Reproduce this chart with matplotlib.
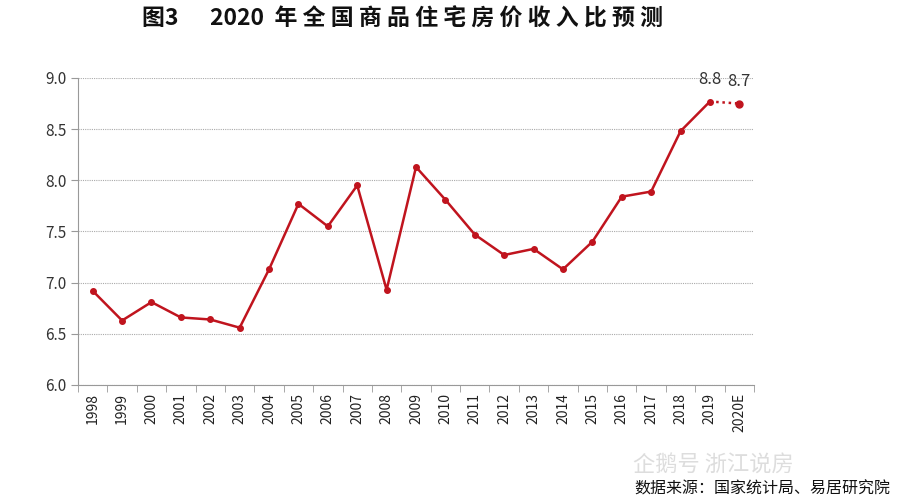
import numpy as np
import matplotlib.pyplot as plt

plt.rcParams['font.family'] = ['Noto Sans CJK SC', 'DejaVu Sans']

years = ['1998', '1999', '2000', '2001', '2002', '2003', '2004', '2005', '2006',
         '2007', '2008', '2009', '2010', '2011', '2012', '2013', '2014', '2015',
         '2016', '2017', '2018', '2019', '2020E']
ratio = [6.92, 6.63, 6.81, 6.66, 6.64, 6.56, 7.13, 7.77, 7.55, 7.95, 6.93, 8.13,
         7.81, 7.47, 7.27, 7.33, 7.13, 7.40, 7.84, 7.89, 8.48, 8.77, 8.75]
labels = {'2019': '8.8', '2020E': '8.7'}

red = '#c0141e'
x = np.arange(len(years))

fig = plt.figure(figsize=(9.09, 5.03), dpi=100)
ax = fig.add_axes([0.0858, 0.2346, 0.7437, 0.6104])

# actual values solid, forecast dotted
ax.plot(x[:-1], ratio[:-1], color=red, lw=1.8, marker='o', ms=4, zorder=3)
ax.plot(x[-2:], ratio[-2:], color=red, lw=1.8, ls=(0, (1, 1.5)), zorder=3)
ax.plot(x[-1], ratio[-1], color=red, marker='o', ms=5, zorder=3)

for i, y in enumerate(years):
    if y in labels:
        ax.text(x[i], ratio[i] + 0.13, labels[y], ha='center', va='bottom',
                fontsize=12, color='#333333')

ax.set_xlim(-0.5, len(years) - 0.5)
ax.set_ylim(6.0, 9.0)
ax.set_yticks(np.arange(6.0, 9.01, 0.5))
ax.set_yticklabels([f'{v:.1f}' for v in np.arange(6.0, 9.01, 0.5)])
ax.set_xticks(x)
ax.set_xticklabels(years, rotation=90)
ax.set_xticks(np.arange(-0.5, len(years)), minor=True)
ax.tick_params(axis='x', which='major', length=0, labelsize=10, pad=6, colors='#222222')
ax.tick_params(axis='x', which='minor', length=5, color='#999999')
ax.tick_params(axis='y', length=5, color='#999999', labelsize=11, labelcolor='#333333')

ax.grid(axis='y', ls=(0, (1, 1)), color='#aaaaaa', lw=0.8)
for s in ['top', 'right']:
    ax.spines[s].set_visible(False)
for s in ['left', 'bottom']:
    ax.spines[s].set_color('#999999')

title = '图3      2020  ' + ' '.join('年全国商品住宅房价收入比预测')
fig.text(0.443, 0.962, title, ha='center', va='center',
         fontsize=16.5, fontweight='bold', color='#111111')
fig.text(0.785, 0.075, '企鹅号 浙江说房', ha='center', va='center',
         fontsize=16, color='#dddddd')
fig.text(0.979, 0.027, '数据来源：国家统计局、易居研究院', ha='right', va='center',
         fontsize=11.5, color='#111111')

fig.savefig('out.png', dpi=100)
